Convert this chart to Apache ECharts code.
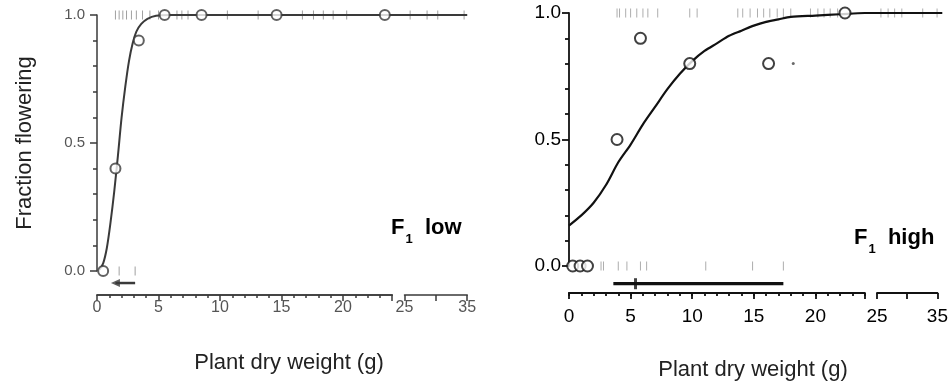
<!DOCTYPE html>
<html>
<head>
<meta charset="utf-8">
<script src="https://cdn.jsdelivr.net/npm/echarts@6/dist/echarts.min.js"></script>
<style>
html,body{margin:0;padding:0;background:#fff}
#main{width:951px;height:385px}
</style>
</head>
<body>
<div id="main"></div>
<script>
// F1 low panel: fitted curve, observed fractions, rug of plants (top = flowered, bottom = not)
var lowCurve = [[0.2,0.005],[0.5,0.03],[0.8,0.09],[1.1,0.19],[1.4,0.31],[1.7,0.45],[2.0,0.6],[2.3,0.72],[2.6,0.82],[2.9,0.89],[3.2,0.935],[3.6,0.965],[4.1,0.985],[4.8,0.997],[6,1],[24,1],[35,1]];
var lowPoints = [[0.5,0],[1.5,0.4],[3.4,0.9],[5.5,1],[8.5,1],[14.6,1],[23.4,1]];
var lowRugTop = [1.5,1.8,2.1,2.4,2.8,3.2,3.7,4.3,5.0,6.5,6.9,7.4,10.6,13.1,16.7,17.6,18.4,19.2,20.3,25.9,28.6,30.3,34.5];
var lowRugBottom = [1.8,3.1];
var lowArrow = [1.5,3.1];

// F1 high panel
var highCurve = [[0,0.16],[1,0.2],[2,0.25],[3,0.32],[4,0.41],[5,0.48],[6,0.56],[7,0.63],[8,0.7],[9,0.76],[10,0.81],[11,0.85],[12,0.88],[13,0.91],[14,0.93],[15,0.95],[16,0.965],[17,0.975],[18,0.985],[20,0.99],[22,0.995],[24,1],[28,1],[35,1]];
var highPoints = [[0.3,0],[0.9,0],[1.5,0],[3.9,0.5],[5.8,0.9],[9.8,0.8],[16.2,0.8],[22.4,1]];
var highDot = [[18.2,0.8]];
var highRugTop = [3.9,4.1,4.6,5.0,5.5,6.0,6.4,7.2,9.8,10.4,13.7,14.1,14.7,15.3,15.8,16.3,16.9,17.4,18.0,19.6,20.2,20.7,21.2,21.8,25.6,26.7,27.7,28.8,32,34.2];
var highRugBottom = [2.6,2.8,4.0,4.7,5.8,6.3,11.1,14.9,17.4];
var highBar = [3.6,17.4];
var highBarMark = 5.4;

var yTicks = [0, 0.5, 1];
var xTicksMain = [0, 5, 10, 15, 20];
var xTicksTail = [25, 35];

var grids = [], xAxes = [], yAxes = [], series = [];

function panel(p) {
    var k = p.k;
    function d(x) { return x <= 25 ? x : 25 + (x - 25) * k; }
    function pt(a) { return [d(a[0]), a[1]]; }
    var g = grids.length;
    var dmax = 25 + 10 * k;
    // data grid
    grids.push({left: p.left, top: p.top, width: p.unit * dmax, height: p.height});
    // broken x axis: 0-24 and 25-35 (compressed)
    grids.push({left: p.left, top: p.axisY - 10, width: p.unit * 24, height: 10});
    grids.push({left: p.left + p.unit * 25, top: p.axisY - 10, width: p.unit * 10 * k, height: 10});

    var lineStyle = {color: p.color, width: p.axisWidth};
    var lbl = {color: p.labelColor, fontFamily: 'Liberation Sans', fontSize: p.xFont, margin: p.xMargin};

    xAxes.push({gridIndex: g, type: 'value', min: 0, max: dmax, show: false});
    yAxes.push({
        gridIndex: g, type: 'value', min: 0, max: 1, interval: 0.5,
        axisLine: {show: true, lineStyle: lineStyle},
        axisTick: {show: true, length: 7, lineStyle: lineStyle},
        minorTick: {show: true, splitNumber: 5, length: 4, lineStyle: lineStyle},
        splitLine: {show: false},
        axisLabel: {color: p.labelColor, fontFamily: 'Liberation Sans', fontSize: p.yFont, margin: p.yMargin,
            formatter: function (v) { return yTicks.indexOf(v) >= 0 ? v.toFixed(1) : ''; }}
    });
    // minor ticks of main segment
    xAxes.push({gridIndex: g + 1, type: 'value', min: 0, max: 24, interval: 1, position: 'bottom',
        axisLine: {show: true, onZero: false, lineStyle: lineStyle},
        axisTick: {show: true, length: 3, lineStyle: lineStyle},
        axisLabel: {show: false}, splitLine: {show: false}});
    // major ticks + labels of main segment
    xAxes.push({gridIndex: g + 1, type: 'value', min: 0, max: 24, interval: 5, position: 'bottom',
        axisLine: {show: true, onZero: false, lineStyle: lineStyle},
        axisTick: {show: true, length: 6, lineStyle: lineStyle},
        axisLabel: Object.assign({formatter: function (v) { return xTicksMain.indexOf(v) >= 0 ? String(v) : ''; }}, lbl),
        splitLine: {show: false}});
    xAxes.push({gridIndex: g + 2, type: 'value', min: 25, max: 35, interval: 5, position: 'bottom',
        axisLine: {show: true, onZero: false, lineStyle: lineStyle},
        axisTick: {show: true, length: 6, lineStyle: lineStyle},
        axisLabel: Object.assign({showMinLabel: true, showMaxLabel: true,
            formatter: function (v) { return xTicksTail.indexOf(v) >= 0 ? String(v) : ''; }}, lbl),
        splitLine: {show: false}});
    yAxes.push({gridIndex: g + 1, type: 'value', show: false});
    yAxes.push({gridIndex: g + 2, type: 'value', show: false});

    var xi = xAxes.length - 4, yi = yAxes.length - 3;

    series.push({type: 'line', xAxisIndex: xi, yAxisIndex: yi, data: p.curve.map(pt), smooth: 0.3,
        showSymbol: false, clip: false, silent: true,
        lineStyle: {color: p.color, width: p.curveWidth}, z: 3});
    series.push({type: 'scatter', xAxisIndex: xi, yAxisIndex: yi, clip: false,
        data: p.rugTop.map(function (x) { return [d(x), 1]; }),
        symbol: 'rect', symbolSize: [1, 9], itemStyle: {color: p.rugColor}, z: 2});
    series.push({type: 'scatter', xAxisIndex: xi, yAxisIndex: yi, clip: false,
        data: p.rugBottom.map(function (x) { return [d(x), 0]; }),
        symbol: 'rect', symbolSize: [1, 9], itemStyle: {color: p.rugColor}, z: 2});
    series.push({type: 'scatter', xAxisIndex: xi, yAxisIndex: yi, clip: false,
        data: p.points.map(pt), symbol: 'circle', symbolSize: p.circleSize,
        itemStyle: {color: '#fff', borderColor: p.color, borderWidth: 2}, z: 5});
    series.push({type: 'line', xAxisIndex: xi, yAxisIndex: yi, clip: false, showSymbol: false,
        data: [[d(p.bar[0]), p.barY], [d(p.bar[1]), p.barY]],
        lineStyle: {color: p.color, width: p.barWidth}, z: 4});
    return {d: d, xi: xi, yi: yi};
}

var L = panel({left: 97, top: 15, height: 256, unit: 12.3, k: 0.51, axisY: 295,
    color: '#3a3a3a', labelColor: '#555', axisWidth: 1.5, curveWidth: 2, rugColor: '#888',
    xFont: 16, xMargin: 5, yFont: 15, yMargin: 12, circleSize: 10,
    curve: lowCurve, points: lowPoints, rugTop: lowRugTop, rugBottom: lowRugBottom,
    bar: lowArrow, barY: -0.047, barWidth: 2.5});
series.push({type: 'scatter', xAxisIndex: L.xi, yAxisIndex: L.yi, clip: false,
    data: [[L.d(lowArrow[0]), -0.047]], symbol: 'triangle', symbolRotate: 90,
    symbolSize: [8, 9], itemStyle: {color: '#3a3a3a'}, z: 4});

var H = panel({left: 569, top: 13, height: 253, unit: 12.32, k: 0.53, axisY: 293,
    color: '#111', labelColor: '#000', axisWidth: 1.8, curveWidth: 2.2, rugColor: '#999',
    xFont: 19, xMargin: 14, yFont: 19, yMargin: 8, circleSize: 11,
    curve: highCurve, points: highPoints, rugTop: highRugTop, rugBottom: highRugBottom,
    bar: highBar, barY: -0.07, barWidth: 3.2});
series.push({type: 'scatter', xAxisIndex: H.xi, yAxisIndex: H.yi, clip: false,
    data: [[H.d(highBarMark), -0.07]], symbol: 'rect', symbolSize: [3, 11],
    itemStyle: {color: '#111'}, z: 4});
series.push({type: 'scatter', xAxisIndex: H.xi, yAxisIndex: H.yi, clip: false,
    data: highDot.map(function (a) { return [H.d(a[0]), a[1]]; }), symbol: 'circle', symbolSize: 3,
    itemStyle: {color: '#444'}, z: 4});

var txt = {fontFamily: 'Liberation Sans', fill: '#222', align: 'center', verticalAlign: 'middle'};
var f1 = {
    b: {fontFamily: 'Liberation Sans', fontWeight: 'bold', fontSize: 22, color: '#111'},
    s: {fontFamily: 'Liberation Sans', fontWeight: 'bold', fontSize: 13, color: '#111', verticalAlign: 'bottom', padding: [0, 0, -7, 1]}
};

var option = {
    animation: false,
    backgroundColor: '#fff',
    grid: grids,
    xAxis: xAxes,
    yAxis: yAxes,
    series: series,
    graphic: [
        {type: 'text', x: 25, y: 143, rotation: Math.PI / 2,
            style: Object.assign({text: 'Fraction flowering', fontSize: 22}, txt)},
        {type: 'text', x: 289, y: 363,
            style: Object.assign({text: 'Plant dry weight (g)', fontSize: 22}, txt)},
        {type: 'text', x: 753, y: 370,
            style: Object.assign({text: 'Plant dry weight (g)', fontSize: 22}, txt)},
        {type: 'text', x: 391, y: 228,
            style: {text: '{b|F}{s|1}{b|  low}', rich: f1, verticalAlign: 'middle'}},
        {type: 'text', x: 854, y: 238,
            style: {text: '{b|F}{s|1}{b|  high}', rich: f1, verticalAlign: 'middle'}}
    ]
};

var myChart = echarts.init(document.getElementById('main'));
myChart.setOption(option);
</script>
</body>
</html>
